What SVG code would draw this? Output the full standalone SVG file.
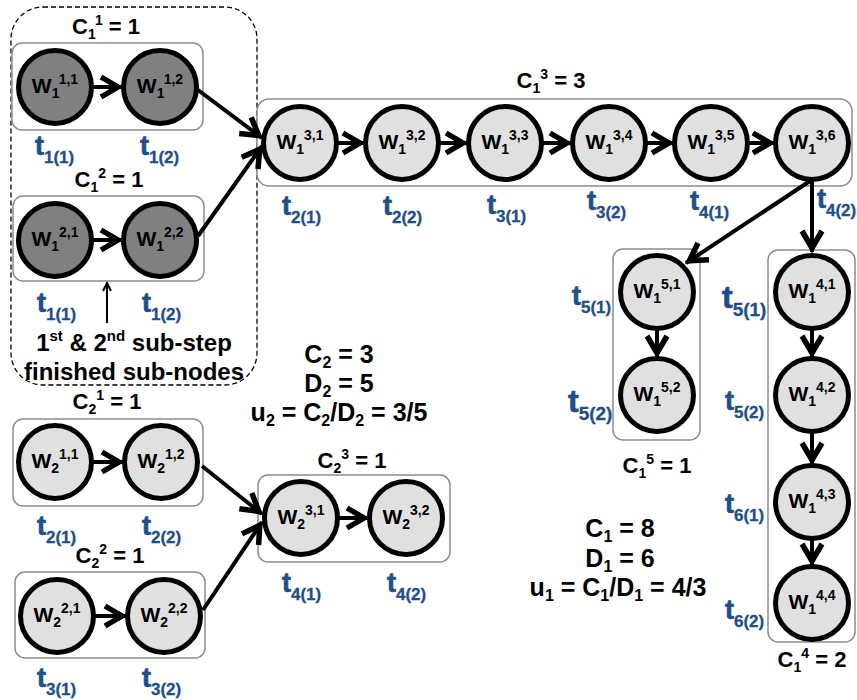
<svg xmlns="http://www.w3.org/2000/svg" width="857" height="700" viewBox="0 0 857 700">
<defs>
<style>
text{font-family:"Liberation Sans",Arial,sans-serif;font-weight:bold;fill:#000}
.box{fill:#fff;stroke:#8c8c8c;stroke-width:1.5}
.nd{stroke:#000;stroke-width:5}
.dark{fill:#808080}
.light{fill:#e0e0e0}
.w{font-size:21px;text-anchor:middle}
.ws{font-size:14px}
.c{font-size:22px;text-anchor:middle}
.cs{font-size:14px}
.big{font-size:25px;text-anchor:middle}
.bs{font-size:16px}
.t{font-size:27px;fill:#1f4e89;stroke:#1f4e89;stroke-width:0.7}
.ts{font-size:17px;fill:#1f4e89;stroke-width:0.3}
.ar{fill:none;stroke:#000;stroke-width:4;marker-end:url(#ah)}
</style>
<marker id="ah" markerUnits="userSpaceOnUse" viewBox="0 0 26 24" refX="23" refY="12" markerWidth="26" markerHeight="24" orient="auto" overflow="visible">
<path d="M2,2 L19,12 L2,22" fill="none" stroke="#000" stroke-width="5.5"/>
</marker>
<marker id="ah2" markerUnits="userSpaceOnUse" viewBox="0 0 10 10" refX="9" refY="5" markerWidth="10" markerHeight="10" orient="auto" overflow="visible">
<path d="M1,1 L9,5 L1,9" fill="none" stroke="#000" stroke-width="2"/>
</marker>
</defs>
<rect width="857" height="700" fill="#fff"/>

<!-- dashed finished group -->
<g id="finished">
<rect x="11" y="7" width="246" height="378" rx="32" fill="none" stroke="#000" stroke-width="1.3" stroke-dasharray="5,3"/>
<line x1="107" y1="323" x2="107" y2="283" stroke="#000" stroke-width="2" marker-end="url(#ah2)"/>
<text x="134" y="351" style="font-size:24px;text-anchor:middle">1<tspan style="font-size:15px" dy="-10">st</tspan><tspan dy="10"> &amp; 2</tspan><tspan style="font-size:15px" dy="-10">nd</tspan><tspan dy="10"> sub-step</tspan></text>
<text x="134" y="380" style="font-size:24px;text-anchor:middle">finished sub-nodes</text>
</g>

<!-- C1^1 -->
<g id="C1_1">
<text class="c" x="106" y="34">C<tspan class="cs" dy="5">1</tspan><tspan class="cs" dy="-14">1</tspan><tspan dy="9"> = 1</tspan></text>
<rect class="box" x="12" y="43" width="191" height="87" rx="10"/>
</g>
<g id="W1_11"><circle class="nd dark" cx="55" cy="87" r="36.5"/><text class="w" x="55" y="93">W<tspan class="ws" dy="5">1</tspan><tspan class="ws" dy="-14">1,1</tspan></text></g>
<g id="W1_12"><circle class="nd dark" cx="160" cy="87" r="36.5"/><text class="w" x="160" y="93">W<tspan class="ws" dy="5">1</tspan><tspan class="ws" dy="-14">1,2</tspan></text></g>

<!-- C1^2 -->
<g id="C1_2">
<text class="c" x="109" y="187">C<tspan class="cs" dy="5">1</tspan><tspan class="cs" dy="-14">2</tspan><tspan dy="9"> = 1</tspan></text>
<rect class="box" x="13" y="196" width="191" height="85" rx="10"/>
</g>
<g id="W1_21"><circle class="nd dark" cx="55" cy="240" r="36.5"/><text class="w" x="55" y="246">W<tspan class="ws" dy="5">1</tspan><tspan class="ws" dy="-14">2,1</tspan></text></g>
<g id="W1_22"><circle class="nd dark" cx="160" cy="240" r="36.5"/><text class="w" x="160" y="246">W<tspan class="ws" dy="5">1</tspan><tspan class="ws" dy="-14">2,2</tspan></text></g>

<!-- C1^3 chain -->
<g id="C1_3">
<text class="c" x="551" y="88">C<tspan class="cs" dy="5">1</tspan><tspan class="cs" dy="-14">3</tspan><tspan dy="9"> = 3</tspan></text>
<rect class="box" x="257" y="99" width="595" height="87" rx="12"/>
</g>
<g id="W1_31"><circle class="nd light" cx="300" cy="143" r="36.5"/><text class="w" x="300" y="149">W<tspan class="ws" dy="5">1</tspan><tspan class="ws" dy="-14">3,1</tspan></text></g>
<g id="W1_32"><circle class="nd light" cx="402" cy="143" r="36.5"/><text class="w" x="402" y="149">W<tspan class="ws" dy="5">1</tspan><tspan class="ws" dy="-14">3,2</tspan></text></g>
<g id="W1_33"><circle class="nd light" cx="505" cy="143" r="36.5"/><text class="w" x="505" y="149">W<tspan class="ws" dy="5">1</tspan><tspan class="ws" dy="-14">3,3</tspan></text></g>
<g id="W1_34"><circle class="nd light" cx="609" cy="143" r="36.5"/><text class="w" x="609" y="149">W<tspan class="ws" dy="5">1</tspan><tspan class="ws" dy="-14">3,4</tspan></text></g>
<g id="W1_35"><circle class="nd light" cx="711" cy="143" r="36.5"/><text class="w" x="711" y="149">W<tspan class="ws" dy="5">1</tspan><tspan class="ws" dy="-14">3,5</tspan></text></g>
<g id="W1_36"><circle class="nd light" cx="812" cy="143" r="36.5"/><text class="w" x="812" y="149">W<tspan class="ws" dy="5">1</tspan><tspan class="ws" dy="-14">3,6</tspan></text></g>

<!-- C1^5 -->
<g id="C1_5">
<rect class="box" x="613" y="249" width="87" height="191" rx="10"/>
<text class="c" x="657" y="473">C<tspan class="cs" dy="5">1</tspan><tspan class="cs" dy="-14">5</tspan><tspan dy="9"> = 1</tspan></text>
</g>
<g id="W1_51"><circle class="nd light" cx="657" cy="292" r="36.5"/><text class="w" x="657" y="298">W<tspan class="ws" dy="5">1</tspan><tspan class="ws" dy="-14">5,1</tspan></text></g>
<g id="W1_52"><circle class="nd light" cx="657" cy="395" r="36.5"/><text class="w" x="657" y="401">W<tspan class="ws" dy="5">1</tspan><tspan class="ws" dy="-14">5,2</tspan></text></g>

<!-- C1^4 -->
<g id="C1_4">
<rect class="box" x="768" y="250" width="87" height="392" rx="10"/>
<text class="c" x="812" y="667">C<tspan class="cs" dy="5">1</tspan><tspan class="cs" dy="-14">4</tspan><tspan dy="9"> = 2</tspan></text>
</g>
<g id="W1_41"><circle class="nd light" cx="812" cy="292" r="36.5"/><text class="w" x="812" y="298">W<tspan class="ws" dy="5">1</tspan><tspan class="ws" dy="-14">4,1</tspan></text></g>
<g id="W1_42"><circle class="nd light" cx="812" cy="395" r="36.5"/><text class="w" x="812" y="401">W<tspan class="ws" dy="5">1</tspan><tspan class="ws" dy="-14">4,2</tspan></text></g>
<g id="W1_43"><circle class="nd light" cx="812" cy="502" r="36.5"/><text class="w" x="812" y="508">W<tspan class="ws" dy="5">1</tspan><tspan class="ws" dy="-14">4,3</tspan></text></g>
<g id="W1_44"><circle class="nd light" cx="812" cy="603" r="36.5"/><text class="w" x="812" y="609">W<tspan class="ws" dy="5">1</tspan><tspan class="ws" dy="-14">4,4</tspan></text></g>

<!-- C2^1 -->
<g id="C2_1">
<text class="c" x="107" y="409">C<tspan class="cs" dy="5">2</tspan><tspan class="cs" dy="-14">1</tspan><tspan dy="9"> = 1</tspan></text>
<rect class="box" x="13" y="419" width="190" height="87" rx="10"/>
</g>
<g id="W2_11"><circle class="nd light" cx="55" cy="462" r="36.5"/><text class="w" x="55" y="468">W<tspan class="ws" dy="5">2</tspan><tspan class="ws" dy="-14">1,1</tspan></text></g>
<g id="W2_12"><circle class="nd light" cx="161" cy="462" r="36.5"/><text class="w" x="161" y="468">W<tspan class="ws" dy="5">2</tspan><tspan class="ws" dy="-14">1,2</tspan></text></g>

<!-- C2^2 -->
<g id="C2_2">
<text class="c" x="110" y="563">C<tspan class="cs" dy="5">2</tspan><tspan class="cs" dy="-14">2</tspan><tspan dy="9"> = 1</tspan></text>
<rect class="box" x="15" y="572" width="190" height="86" rx="10"/>
</g>
<g id="W2_21"><circle class="nd light" cx="57" cy="616" r="36.5"/><text class="w" x="57" y="622">W<tspan class="ws" dy="5">2</tspan><tspan class="ws" dy="-14">2,1</tspan></text></g>
<g id="W2_22"><circle class="nd light" cx="164" cy="616" r="36.5"/><text class="w" x="164" y="622">W<tspan class="ws" dy="5">2</tspan><tspan class="ws" dy="-14">2,2</tspan></text></g>

<!-- C2^3 -->
<g id="C2_3">
<text class="c" x="352" y="468">C<tspan class="cs" dy="5">2</tspan><tspan class="cs" dy="-14">3</tspan><tspan dy="9"> = 1</tspan></text>
<rect class="box" x="258" y="475" width="192" height="87" rx="10"/>
</g>
<g id="W2_31"><circle class="nd light" cx="301" cy="518" r="36.5"/><text class="w" x="301" y="524">W<tspan class="ws" dy="5">2</tspan><tspan class="ws" dy="-14">3,1</tspan></text></g>
<g id="W2_32"><circle class="nd light" cx="406" cy="518" r="36.5"/><text class="w" x="406" y="524">W<tspan class="ws" dy="5">2</tspan><tspan class="ws" dy="-14">3,2</tspan></text></g>

<!-- summary texts -->
<g id="sum2">
<text class="big" x="339" y="363">C<tspan class="bs" dy="5">2</tspan><tspan dy="-5"> = 3</tspan></text>
<text class="big" x="339" y="392">D<tspan class="bs" dy="5">2</tspan><tspan dy="-5"> = 5</tspan></text>
<text class="big" x="339" y="421">u<tspan class="bs" dy="5">2</tspan><tspan dy="-5"> = C</tspan><tspan class="bs" dy="5">2</tspan><tspan dy="-5">/D</tspan><tspan class="bs" dy="5">2</tspan><tspan dy="-5"> = 3/5</tspan></text>
</g>
<g id="sum1">
<text class="big" x="620" y="537">C<tspan class="bs" dy="5">1</tspan><tspan dy="-5"> = 8</tspan></text>
<text class="big" x="620" y="567">D<tspan class="bs" dy="5">1</tspan><tspan dy="-5"> = 6</tspan></text>
<text class="big" x="618" y="596">u<tspan class="bs" dy="5">1</tspan><tspan dy="-5"> = C</tspan><tspan class="bs" dy="5">1</tspan><tspan dy="-5">/D</tspan><tspan class="bs" dy="5">1</tspan><tspan dy="-5"> = 4/3</tspan></text>
</g>

<!-- time labels -->
<g id="tlabels">
<text class="t" x="35" y="155">t<tspan class="ts" dy="8">1(1)</tspan></text>
<text class="t" x="140" y="155">t<tspan class="ts" dy="8">1(2)</tspan></text>
<text class="t" x="37" y="312">t<tspan class="ts" dy="8">1(1)</tspan></text>
<text class="t" x="142" y="312">t<tspan class="ts" dy="8">1(2)</tspan></text>
<text class="t" x="282" y="215">t<tspan class="ts" dy="8">2(1)</tspan></text>
<text class="t" x="383" y="215">t<tspan class="ts" dy="8">2(2)</tspan></text>
<text class="t" x="487" y="214">t<tspan class="ts" dy="8">3(1)</tspan></text>
<text class="t" x="587" y="210">t<tspan class="ts" dy="8">3(2)</tspan></text>
<text class="t" x="690" y="210">t<tspan class="ts" dy="8">4(1)</tspan></text>
<text class="t" x="817" y="208">t<tspan class="ts" dy="8">4(2)</tspan></text>
<text class="t" x="572" y="305">t<tspan class="ts" dy="8">5(1)</tspan></text>
<text class="t" x="568" y="412" style="font-size:32px">t<tspan class="ts" style="font-size:19px" dy="8">5(2)</tspan></text>
<text class="t" x="722" y="308" style="font-size:32px">t<tspan class="ts" style="font-size:19px" dy="8">5(1)</tspan></text>
<text class="t" x="725" y="410">t<tspan class="ts" dy="8">5(2)</tspan></text>
<text class="t" x="725" y="513">t<tspan class="ts" dy="8">6(1)</tspan></text>
<text class="t" x="725" y="619">t<tspan class="ts" dy="8">6(2)</tspan></text>
<text class="t" x="37" y="535">t<tspan class="ts" dy="8">2(1)</tspan></text>
<text class="t" x="142" y="535">t<tspan class="ts" dy="8">2(2)</tspan></text>
<text class="t" x="37" y="687">t<tspan class="ts" dy="8">3(1)</tspan></text>
<text class="t" x="142" y="687">t<tspan class="ts" dy="8">3(2)</tspan></text>
<text class="t" x="282" y="592">t<tspan class="ts" dy="8">4(1)</tspan></text>
<text class="t" x="387" y="592">t<tspan class="ts" dy="8">4(2)</tspan></text>
</g>

<!-- connectors -->
<g id="connectors">
<line class="ar" x1="93" y1="87" x2="122" y2="87"/>
<line class="ar" x1="93" y1="240" x2="122" y2="240"/>
<line class="ar" x1="198" y1="90" x2="262" y2="138"/>
<line class="ar" x1="198" y1="236" x2="262" y2="146"/>
<line class="ar" x1="338" y1="143" x2="364" y2="143"/>
<line class="ar" x1="440" y1="143" x2="467" y2="143"/>
<line class="ar" x1="543" y1="143" x2="571" y2="143"/>
<line class="ar" x1="647" y1="143" x2="673" y2="143"/>
<line class="ar" x1="749" y1="143" x2="774" y2="143"/>
<line class="ar" x1="810" y1="181" x2="686" y2="263"/>
<line class="ar" x1="812" y1="181" x2="812" y2="252"/>
<line class="ar" x1="657" y1="330" x2="657" y2="357"/>
<line class="ar" x1="812" y1="330" x2="812" y2="357"/>
<line class="ar" x1="812" y1="433" x2="812" y2="464"/>
<line class="ar" x1="812" y1="540" x2="812" y2="565"/>
<line class="ar" x1="93" y1="462" x2="123" y2="462"/>
<line class="ar" x1="95" y1="616" x2="126" y2="616"/>
<line class="ar" x1="202" y1="466" x2="262" y2="514"/>
<line class="ar" x1="203" y1="610" x2="262" y2="522"/>
<line class="ar" x1="339" y1="518" x2="368" y2="518"/>
</g>
</svg>
